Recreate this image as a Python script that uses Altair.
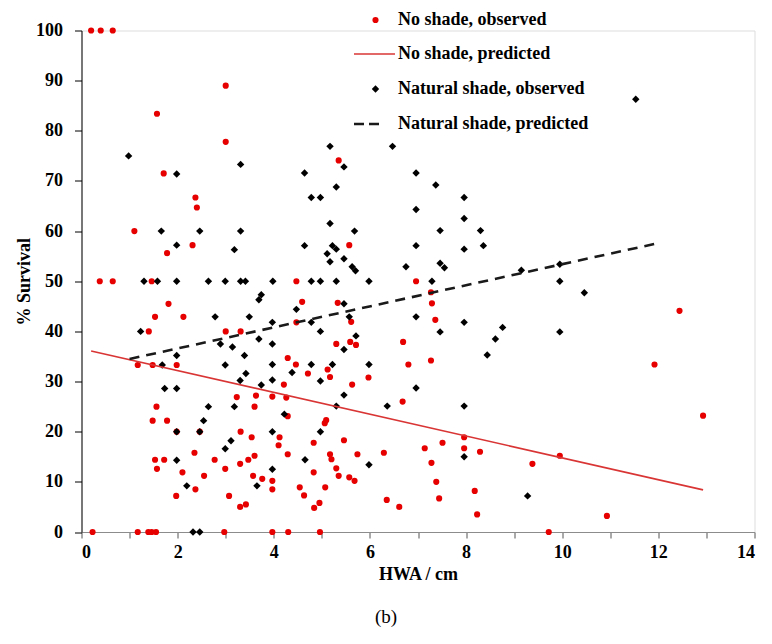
import altair as alt
import pandas as pd

# ---- No shade, observed (HWA cm, % survival) ----
ns_x = [0.2, 0.4, 0.65, 3.0, 1.57, 3.0, 1.71, 2.37, 2.4, 1.1, 2.31, 1.78, 0.38, 0.65, 1.46,
        1.81, 1.53, 2.12, 1.4, 3.0, 3.31, 1.17, 1.48, 1.98, 3.23, 3.63, 1.56, 3.6, 1.48, 1.78,
        1.98, 2.46, 3.31, 3.54, 2.35, 1.53, 1.72, 2.77, 3.47, 3.6, 3.3, 1.57, 2.99, 2.1, 2.55,
        3.57, 2.37, 1.97, 3.07, 3.3, 3.42, 0.23, 1.17, 1.39, 1.46, 1.55, 2.97, 3.97, 4.3, 4.96,
        9.72, 5.35, 5.57, 4.47, 6.96, 4.59, 5.33, 7.27, 7.29, 7.36, 4.47, 5.61, 5.3, 5.59, 5.71,
        6.69, 4.29, 6.8, 7.27, 4.46, 5.12, 5.17, 4.71, 5.97, 4.21, 5.63, 3.97, 4.26, 6.68, 4.29,
        5.09, 5.06, 4.12, 5.46, 4.1, 4.83, 7.14, 4.29, 5.17, 5.2, 5.74, 6.29, 7.28, 4.83, 5.3,
        5.35, 5.57, 5.68, 3.76, 3.97, 3.97, 4.54, 4.63, 5.07, 7.38, 6.35, 6.61, 4.84, 4.95, 7.96,
        7.96, 7.51, 8.29, 9.38, 9.95, 7.44, 8.18, 8.23, 10.93, 12.44, 11.92, 12.93]
ns_y = [100, 100, 100, 89, 83.4, 77.8, 71.5, 66.7, 64.7, 60, 57.2, 55.6, 50, 50, 50,
        45.5, 42.9, 42.9, 40, 40, 40, 33.3, 33.3, 33.3, 26.9, 27.2, 25, 25, 22.2, 22.2,
        20, 20, 20, 18.9, 15.8, 14.4, 14.4, 14.4, 14.4, 15.2, 13.6, 12.6, 12.6, 11.9, 11.2,
        11.2, 8.5, 7.2, 7.2, 5.0, 5.5, 0, 0, 0, 0, 0, 0, 0, 0, 0,
        0, 74.1, 57.2, 50, 50, 45.9, 45.7, 47.8, 45.6, 42.3, 41.8, 41.9, 37.5, 37.9, 37.3,
        37.9, 34.7, 33.4, 34.2, 33.4, 32.4, 30.9, 31.6, 30.8, 29.4, 29.4, 27.0, 26.8, 26.0, 23.1,
        22.3, 21.7, 18.9, 18.3, 17.3, 17.8, 16.7, 15.5, 15.5, 14.5, 15.5, 15.8, 13.8, 11.9, 12.7,
        11.2, 10.9, 10.2, 10.6, 10.2, 8.5, 8.9, 7.3, 8.9, 10.0, 6.4, 5.0, 4.8, 5.8, 18.9,
        16.7, 17.8, 16.0, 13.6, 15.2, 6.7, 8.2, 3.5, 3.2, 44.1, 33.4, 23.2]

# ---- Natural shade, observed ----
nat_x = [0.98, 1.98, 3.31, 1.66, 2.46, 3.31, 1.98, 3.18, 1.3, 1.58, 1.98, 2.64, 2.99, 3.31, 3.41,
         3.98, 4.78, 4.97, 5.3, 5.98, 7.29, 9.95, 2.78, 3.49, 1.23, 2.89, 3.14, 1.98, 3.39, 1.68,
         2.99, 3.42, 3.3, 1.73, 1.98, 2.64, 3.18, 2.54, 1.98, 2.46, 3.11, 2.99, 1.98, 2.19, 3.65,
         2.32, 2.46, 5.17, 6.47, 5.46, 4.64, 6.96, 7.37, 5.3, 4.78, 4.97, 6.96, 5.17, 5.68, 4.64,
         6.96, 5.22, 5.3, 5.11, 5.17, 5.46, 5.63, 5.7, 6.75, 3.69, 3.74, 5.46, 4.47, 6.96, 3.97,
         4.78, 5.57, 4.97, 3.69, 3.97, 5.71, 5.46, 3.97, 4.78, 5.22, 5.98, 4.38, 3.97, 4.97, 3.74,
         6.96, 5.46, 5.3, 6.36, 4.22, 3.97, 4.97, 4.65, 5.98, 3.97, 7.96, 7.96, 7.46, 8.3, 7.96,
         8.36, 7.46, 7.55, 9.15, 9.95, 10.46, 7.96, 7.46, 8.76, 8.61, 8.44, 9.95, 7.96, 7.96, 9.28,
         11.53]
nat_y = [75, 71.4, 73.3, 60, 60, 60, 57.2, 56.3, 50, 50, 50, 50, 50, 50, 50,
         50, 50, 50, 50, 50, 50, 50, 42.9, 42.9, 40, 37.5, 36.9, 35.2, 35.2, 33.3,
         33.3, 31.6, 30.2, 28.6, 28.6, 25, 25, 22.2, 20, 20, 18.2, 16.6, 14.3, 9.2, 9.2,
         0, 0, 76.9, 76.9, 72.8, 71.6, 71.6, 69.2, 68.8, 66.7, 66.7, 64.3, 61.5, 60, 57.1,
         57.1, 57.1, 56.4, 55.5, 53.9, 54.5, 52.9, 52.1, 52.9, 46.3, 47.3, 45.5, 44.4, 42.9, 41.8,
         41.8, 42.9, 40, 38.5, 37.5, 39.1, 36.4, 33.4, 33.4, 33.4, 33.4, 31.8, 30.3, 30.1, 29.3,
         28.7, 27.3, 25.1, 25.1, 23.5, 20, 20, 14.4, 13.4, 12.5, 66.7, 62.5, 60.1, 60.1, 56.4,
         57.1, 53.6, 52.7, 52.2, 53.4, 47.7, 41.8, 39.9, 40.8, 38.5, 35.3, 39.9, 25.1, 15.0, 7.2,
         86.3]

# ---- Predicted lines (end points) ----
ns_pred_x = [0.2, 12.93]
ns_pred_y = [36.1, 8.4]
nat_pred_x = [1.0, 11.95]
nat_pred_y = [34.5, 57.5]

legend_labels = ["No shade, observed", "No shade, predicted",
                 "Natural shade, observed", "Natural shade, predicted"]

RED = "#e60000"
RED_LINE = "#d93535"
FONT = "Liberation Serif"

ns_df = pd.DataFrame({"x": ns_x, "y": ns_y})
nat_df = pd.DataFrame({"x": nat_x, "y": nat_y})
ns_pred = pd.DataFrame({"x": ns_pred_x, "y": ns_pred_y})
nat_pred = pd.DataFrame({"x": nat_pred_x, "y": nat_pred_y})

xscale = alt.Scale(domain=[0, 14], nice=False, zero=False)
yscale = alt.Scale(domain=[0, 100], nice=False)

xaxis = alt.Axis(values=list(range(0, 15)), labelExpr="datum.value % 2 == 0 ? datum.label : ''",
                 grid=False, domainColor="#8c8c8c", tickColor="#555555", tickSize=6,
                 labelFont=FONT, labelFontWeight="bold", labelFontSize=18, labelColor="black",
                 labelPadding=5, title="HWA / cm", titleFont=FONT, titleFontWeight="bold",
                 titleFontSize=18, titleColor="black", titlePadding=4)
yaxis = alt.Axis(values=list(range(0, 101, 5)), labelExpr="datum.value % 10 == 0 ? datum.label : ''",
                 grid=False, domainColor="black", tickColor="black", tickSize=7,
                 labelFont=FONT, labelFontWeight="bold", labelFontSize=18, labelColor="black",
                 labelPadding=12, title="% Survival", titleFont=FONT, titleFontWeight="bold",
                 titleFontSize=18, titleColor="black", titlePadding=2)

ns_pts = alt.Chart(ns_df).mark_point(shape="circle", filled=True, size=38, color=RED, opacity=1).encode(
    x=alt.X("x:Q", scale=xscale, axis=xaxis),
    y=alt.Y("y:Q", scale=yscale, axis=yaxis),
)
nat_pts = alt.Chart(nat_df).mark_point(shape="diamond", filled=True, size=55, color="black", opacity=1).encode(
    x=alt.X("x:Q", scale=xscale),
    y=alt.Y("y:Q", scale=yscale),
)
ns_line = alt.Chart(ns_pred).mark_line(color=RED_LINE, strokeWidth=1.6).encode(
    x=alt.X("x:Q", scale=xscale), y=alt.Y("y:Q", scale=yscale))
nat_line = alt.Chart(nat_pred).mark_line(color="#1a1a1a", strokeWidth=2.6, strokeDash=[10, 7]).encode(
    x=alt.X("x:Q", scale=xscale), y=alt.Y("y:Q", scale=yscale))

# ---- legend (layout in pixels) ----
one = pd.DataFrame({"k": [0]})
rows_y = [-10.5, 23.5, 58.5, 93.5]
sym_x = 294
txt_x = 316.5
leg = [
    alt.Chart(one).mark_point(shape="circle", filled=True, size=38, color=RED, opacity=1).encode(
        x=alt.value(sym_x), y=alt.value(rows_y[0])),
    alt.Chart(one).mark_rule(color=RED_LINE, strokeWidth=1.6).encode(
        x=alt.value(272.5), x2=alt.value(313.5), y=alt.value(rows_y[1])),
    alt.Chart(one).mark_point(shape="diamond", filled=True, size=55, color="black", opacity=1).encode(
        x=alt.value(sym_x), y=alt.value(rows_y[2])),
    alt.Chart(one).mark_rule(color="#1a1a1a", strokeWidth=2.6, strokeDash=[10, 5]).encode(
        x=alt.value(272.5), x2=alt.value(298.5), y=alt.value(rows_y[3])),
]
for lab, yy in zip(legend_labels, rows_y):
    leg.append(alt.Chart(one).mark_text(align="left", baseline="middle", font=FONT, fontWeight="bold",
                                        fontSize=18, color="black").encode(
        x=alt.value(txt_x), y=alt.value(yy), text=alt.value(lab)))

chart = alt.layer(ns_pts, nat_pts, ns_line, nat_line, *leg).properties(
    width=673, height=501.5,
    autosize=alt.AutoSizeParams(type="none"),
    padding={"left": 73.5, "top": 22.5, "right": 9.5, "bottom": 100},
    title=alt.TitleParams("(b)", orient="bottom", anchor="middle", font=FONT, fontSize=19,
                          fontWeight="normal", color="black", offset=25, dx=-32),
).configure_view(stroke=None).configure(background="white")

chart.save("out.html", embed_options={"renderer": "svg", "actions": False})
